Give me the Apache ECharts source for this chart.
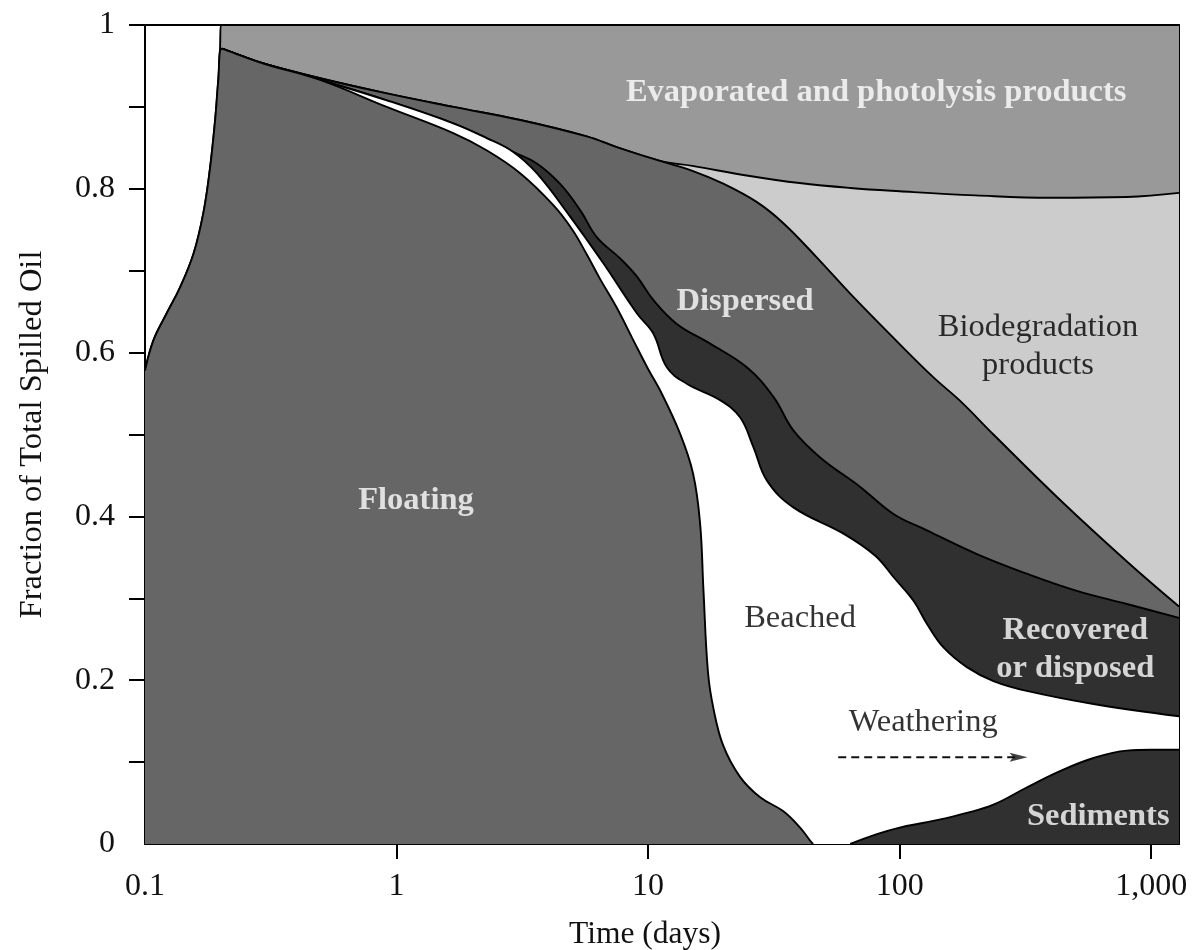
<!DOCTYPE html>
<html><head><meta charset="utf-8">
<script src="https://cdn.jsdelivr.net/npm/echarts@6/dist/echarts.min.js"></script>
<style>html,body{margin:0;padding:0;background:#fff}#c{width:1193px;height:950px}</style>
</head><body><div id="c"></div>
<script>
// ---- Tick values ----
const xTickLabels = [0.1, 1, 10, 100, 1000];
const xTickMarks = [1, 10, 100, 1000];
const yTickMarks = [0.1, 0.2, 0.3, 0.4, 0.5, 0.6, 0.7, 0.8, 0.9, 1.0];
const yTickLabels = [0, 0.2, 0.4, 0.6, 0.8, 1.0];

// ---- Cumulative boundaries (fraction of total spilled oil) vs time (days) ----
// Total spilled oil (upper edge of the evaporated band)
const totalX = [0.1, 0.108, 0.122, 0.138, 0.156, 0.1705, 0.181, 0.19, 0.1956, 0.1987, 0.2005, 1290];
const totalY = [0.578, 0.615, 0.648, 0.680, 0.721, 0.770, 0.823, 0.884, 0.933, 0.971, 1.0, 1.0];

// Upper edge of biodegradation products
const bioX = [0.2018, 0.2387, 0.2954, 0.4965, 0.914, 1.68, 3.1, 5.7, 7.5, 11.16, 15, 25, 40, 63.6, 100, 200, 400, 800, 1290];
const bioY = [0.971, 0.963, 0.953, 0.935, 0.9165, 0.900, 0.884, 0.864, 0.851, 0.834, 0.828, 0.816, 0.807, 0.801, 0.797, 0.792, 0.789, 0.790, 0.795];

// Upper edge of dispersed
const dispX = [0.2018, 0.2387, 0.2954, 0.4965, 0.914, 1.68, 3.1, 5.7, 7.5, 11.16, 15, 20, 27, 34.5, 46.9, 63.6, 94.5, 136, 174, 236, 434.5, 800.5, 1290];
const dispY = [0.971, 0.963, 0.953, 0.935, 0.9165, 0.900, 0.884, 0.864, 0.851, 0.834, 0.822, 0.806, 0.784, 0.758, 0.716, 0.672, 0.618, 0.570, 0.541, 0.500, 0.420, 0.345, 0.290];

// Upper edge of recovered or disposed
const recX = [0.2018, 0.2387, 0.2954, 0.4965, 0.914, 1.68, 2.28, 2.91, 3.61, 4.47, 5.37, 6.25, 7.74, 9.02, 10.5, 13.0, 17.64, 24.69, 31.5, 37.8, 48.3, 69.7, 94.5, 128.3, 202.8, 320.5, 506.5, 800.5, 1290];
const recY = [0.971, 0.963, 0.953, 0.933, 0.908, 0.880, 0.862, 0.845, 0.831, 0.806, 0.774, 0.741, 0.715, 0.693, 0.664, 0.635, 0.611, 0.582, 0.546, 0.505, 0.472, 0.436, 0.403, 0.383, 0.354, 0.330, 0.309, 0.293, 0.276];

// Upper edge of beached
const beachX = [0.2018, 0.2387, 0.2954, 0.4965, 0.914, 1.68, 2.28, 2.91, 3.61, 4.9, 6.64, 9.02, 10.5, 11.87, 14.25, 19.33, 23.2, 26.2, 29.65, 37.8, 59.8, 80, 94.5, 113.5, 128.3, 149.4, 185, 236, 320, 590, 1290];
const beachY = [0.971, 0.963, 0.953, 0.933, 0.908, 0.880, 0.862, 0.845, 0.819, 0.766, 0.709, 0.648, 0.623, 0.582, 0.562, 0.542, 0.521, 0.485, 0.444, 0.411, 0.379, 0.352, 0.326, 0.297, 0.269, 0.240, 0.216, 0.199, 0.187, 0.171, 0.156];

// Upper edge of floating
const floatX = [0.1, 0.108, 0.122, 0.138, 0.156, 0.1705, 0.181, 0.19, 0.1956, 0.2018, 0.2387, 0.2954, 0.4965, 0.914, 1.68, 2.28, 3.1, 4.2, 5.0, 5.7, 6.44, 7.5, 8.74, 10, 11.16, 13.4, 15.1, 16.1, 16.6, 17.3, 18.2, 19.9, 23.2, 27.9, 34.5, 40.2, 44.1, 45.3];
const floatY = [0.578, 0.615, 0.648, 0.680, 0.721, 0.770, 0.823, 0.884, 0.933, 0.971, 0.963, 0.953, 0.933, 0.900, 0.868, 0.847, 0.819, 0.780, 0.750, 0.720, 0.690, 0.655, 0.615, 0.580, 0.554, 0.501, 0.452, 0.391, 0.310, 0.210, 0.165, 0.120, 0.082, 0.057, 0.040, 0.020, 0.004, 0];

// Upper edge of sediments
const sedX = [63.6, 81.2, 100, 125, 150, 180, 236, 320, 434, 590, 800, 1000, 1290];
const sedY = [0, 0.012, 0.020, 0.026, 0.031, 0.037, 0.048, 0.069, 0.089, 0.105, 0.114, 0.115, 0.115];

// Weathering arrow: dashed shaft span and head position (days, fraction)
const arrowX = [57, 290];
const arrowY = [0.106, 0.106];
const arrowHead = [297, 0.106];

// ---- Region labels ----
const labelTexts = ['Evaporated and photolysis products', 'Dispersed', 'Biodegradation\nproducts', 'Floating', 'Beached', 'Recovered\nor disposed', 'Weathering', 'Sediments'];
const labelX = [80.7, 24.3, 355, 1.195, 40.2, 499, 124, 616];
const labelY = [0.918, 0.662, 0.608, 0.419, 0.275, 0.237, 0.148, 0.033];
const labelBold = [true, true, false, true, false, true, false, true];

const FONT = '"Liberation Serif", "Times New Roman", serif';

function zip(xs, ys) { return xs.map((x, i) => [x, ys[i]]); }
function band(name, xs, ys, color, z) {
  return {
    type: 'line', name, data: zip(xs, ys), z,
    showSymbol: false, symbol: 'none', smooth: 0.4,
    lineStyle: { color: '#000', width: 1.9 },
    areaStyle: { color, opacity: 1 },
    silent: true, animation: false
  };
}

const series = [
  band('Evaporated', totalX, totalY, '#999999', 1),
  band('Biodegradation', bioX, bioY, '#cccccc', 2),
  band('Dispersed', dispX, dispY, '#666666', 3),
  band('Recovered', recX, recY, '#303030', 4),
  band('Beached', beachX, beachY, '#ffffff', 5),
  band('Floating', floatX, floatY, '#666666', 6),
  band('Sediments', sedX, sedY, '#303030', 7)
];
// Weathering arrow shaft
series.push({
  type: 'line', z: 8, silent: true, animation: false,
  data: zip(arrowX, arrowY), showSymbol: false, symbol: 'none',
  lineStyle: { type: [8, 5], color: '#111', width: 2 }
});
// Arrow head
series.push({
  type: 'scatter', z: 9, silent: true, animation: false,
  data: [arrowHead],
  symbol: 'path://M0,0 L20,5 L0,10 L4,5 Z', symbolSize: [18, 9],
  itemStyle: { color: '#111' }
});
// Region labels
series.push({
  type: 'scatter', z: 20, silent: true, animation: false,
  symbolSize: 0,
  data: labelTexts.map((t, i) => ({
    value: [labelX[i], labelY[i]],
    label: {
      formatter: t,
      fontWeight: labelBold[i] ? 'bold' : 'normal',
      color: labelBold[i] ? '#ffffff' : '#000000'
    }
  })),
  label: { show: true, position: 'inside', fontFamily: FONT, fontSize: 32.5, lineHeight: 38, align: 'center', verticalAlign: 'middle' }
});

function fmtX(v) {
  const l = Math.log10(v), p = Math.round(l);
  if (Math.abs(l - p) > 1e-6) return '';
  const r = Math.pow(10, p);
  if (r < 1) return String(+r.toPrecision(3));
  return String(Math.round(r)).replace(/\B(?=(\d{3})+(?!\d))/g, ',');
}
function fmtY(v) {
  const k = Math.round(v * 10);
  return k % 2 === 0 ? String(k / 10) : '';
}

const tickText = { fontFamily: FONT, fontSize: 32, color: '#111' };
const chart = echarts.init(document.getElementById('c'), null, { renderer: 'canvas' });
chart.setOption({
  animation: false,
  backgroundColor: '#fff',
  grid: { left: 145, right: 14, top: 25, bottom: 106, containLabel: false, outerBoundsMode: 'none' },
  xAxis: [{
    type: 'log', logBase: 10, min: 0.1, max: 1290, position: 'bottom',
    name: 'Time (days)', nameLocation: 'middle', nameGap: 80,
    nameTextStyle: { fontFamily: FONT, fontSize: 31.5, lineHeight: 22, color: '#111', padding: [0, 34, 0, 0] },
    axisLine: { show: true, onZero: false, lineStyle: { color: '#000', width: 2 } },
    axisTick: { show: true, inside: false, length: 15, customValues: xTickMarks, lineStyle: { color: '#000', width: 2 } },
    axisLabel: Object.assign({ margin: 27, customValues: xTickLabels, formatter: fmtX }, tickText),
    splitLine: { show: false }, minorTick: { show: false }, minorSplitLine: { show: false }
  }, {
    type: 'log', logBase: 10, min: 0.1, max: 1290, position: 'top',
    axisLine: { show: true, onZero: false, lineStyle: { color: '#000', width: 2 } },
    axisTick: { show: false }, axisLabel: { show: false }, splitLine: { show: false }
  }],
  yAxis: [{
    type: 'value', min: 0, max: 1, interval: 0.1, position: 'left',
    name: 'Fraction of Total Spilled Oil', nameLocation: 'middle', nameRotate: 90, nameGap: 96,
    nameTextStyle: { fontFamily: FONT, fontSize: 32.5, color: '#111' },
    axisLine: { show: true, onZero: false, lineStyle: { color: '#000', width: 2 } },
    axisTick: { show: true, inside: false, length: 16, customValues: yTickMarks, lineStyle: { color: '#000', width: 2 } },
    axisLabel: Object.assign({ margin: 30, customValues: yTickLabels, formatter: fmtY }, tickText),
    splitLine: { show: false }
  }, {
    type: 'value', min: 0, max: 1, position: 'right',
    axisLine: { show: true, onZero: false, lineStyle: { color: '#000', width: 2 } },
    axisTick: { show: false }, axisLabel: { show: false }, splitLine: { show: false }
  }],
  series
});
</script></body></html>
